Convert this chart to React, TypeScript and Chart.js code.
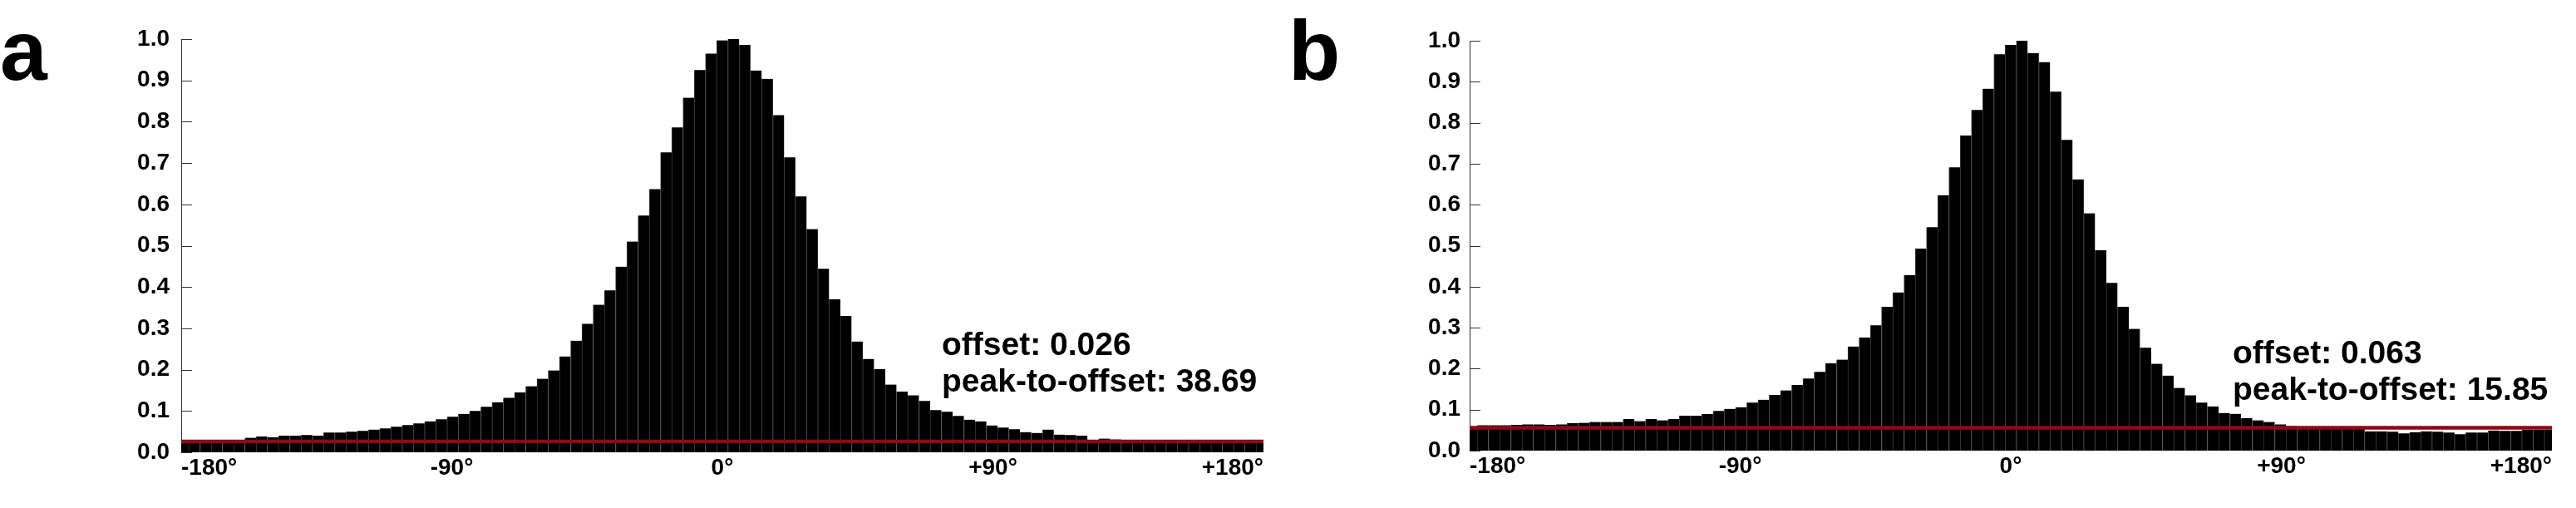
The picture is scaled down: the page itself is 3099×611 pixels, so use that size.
import React, { useEffect, useRef } from "react";
import { Chart, registerables } from "chart.js";

Chart.register(...registerables);

// ---------- data ----------
const X_TICKS = [-180, -90, 0, 90, 180];
const Y_MIN = 0;
const Y_MAX = 1;
const Y_STEP = 0.1;

// histogram bins: 95 full bins between these edges, plus a clipped bin at each end
const BIN_FIRST_EDGE = -177.5;
const BIN_LAST_EDGE = 177.5;
const FULL_BINS = 95;

// panel a (one value per bar, left clipped bar first, right clipped bar last)
const VALUES_A = [
  0.027,
  0.027, 0.027, 0.027, 0.028, 0.028, 0.035, 0.038, 0.036, 0.040, 0.040,
  0.042, 0.040, 0.048, 0.048, 0.050, 0.052, 0.055, 0.058, 0.062, 0.066,
  0.070, 0.075, 0.080, 0.086, 0.093, 0.100, 0.110, 0.121, 0.132, 0.145,
  0.160, 0.178, 0.198, 0.232, 0.270, 0.311, 0.357, 0.392, 0.449, 0.510,
  0.573, 0.637, 0.726, 0.786, 0.858, 0.925, 0.965, 0.997, 1.000, 0.986,
  0.924, 0.904, 0.816, 0.714, 0.619, 0.540, 0.444, 0.370, 0.330, 0.268,
  0.226, 0.201, 0.164, 0.147, 0.138, 0.124, 0.102, 0.098, 0.088, 0.079,
  0.075, 0.065, 0.060, 0.056, 0.049, 0.047, 0.055, 0.043, 0.042, 0.040,
  0.030, 0.033, 0.031, 0.027, 0.027, 0.026, 0.027, 0.026, 0.026, 0.027,
  0.026, 0.026, 0.027, 0.026, 0.026,
  0.026,
];

// panel b
const VALUES_B = [
  0.058,
  0.062, 0.062, 0.062, 0.063, 0.064, 0.064, 0.063, 0.064, 0.067, 0.068,
  0.070, 0.070, 0.070, 0.077, 0.072, 0.077, 0.074, 0.077, 0.085, 0.085,
  0.089, 0.097, 0.102, 0.106, 0.117, 0.124, 0.136, 0.147, 0.160, 0.176,
  0.192, 0.213, 0.222, 0.254, 0.276, 0.306, 0.351, 0.386, 0.428, 0.493,
  0.545, 0.623, 0.691, 0.769, 0.831, 0.883, 0.967, 0.990, 1.000, 0.970,
  0.948, 0.876, 0.758, 0.662, 0.579, 0.489, 0.409, 0.351, 0.297, 0.251,
  0.212, 0.183, 0.153, 0.135, 0.117, 0.108, 0.092, 0.090, 0.079, 0.074,
  0.070, 0.064, 0.060, 0.059, 0.058, 0.058, 0.057, 0.057, 0.056, 0.047,
  0.047, 0.046, 0.042, 0.045, 0.047, 0.046, 0.044, 0.040, 0.044, 0.044,
  0.049, 0.048, 0.048, 0.051, 0.051,
  0.051,
];

const OFFSET_LINE_A = 0.026;
const OFFSET_LINE_B = 0.056;
const TEXT_A = ["offset: 0.026", "peak-to-offset: 38.69"];
const TEXT_B = ["offset: 0.063", "peak-to-offset: 15.85"];
const PANEL_LETTERS = ["a", "b"];

// ---------- helpers ----------
const FONT = '"Liberation Sans", Arial, Helvetica, sans-serif';

function binCenters(count: number): number[] {
  const w = (BIN_LAST_EDGE - BIN_FIRST_EDGE) / FULL_BINS;
  const out: number[] = [];
  for (let i = 0; i < count; i++) out.push(BIN_FIRST_EDGE + w * (i - 1 + 0.5));
  return out;
}

function fmtX(v: number): string {
  if (v > 0) return "+" + v + "\u00b0";
  return v + "\u00b0";
}

const innerTicksPlugin = {
  id: "innerTicks",
  beforeDatasetsDraw(chart: any) {
    const y = chart.scales.y;
    const { left } = chart.chartArea;
    const ctx = chart.ctx;
    ctx.save();
    ctx.strokeStyle = "#333";
    ctx.lineWidth = 1;
    ctx.beginPath();
    y.ticks.forEach((t: any) => {
      const py = Math.round(y.getPixelForValue(t.value)) + 0.5;
      ctx.moveTo(left, py);
      ctx.lineTo(left + 13, py);
    });
    ctx.stroke();
    ctx.restore();
  },
};

const annotPlugin = {
  id: "annot",
  afterDatasetsDraw(chart: any, _args: any, opts: any) {
    if (!opts || !opts.lines) return;
    const ctx = chart.ctx;
    ctx.save();
    ctx.fillStyle = "#000";
    ctx.font = `bold ${opts.size}px ${FONT}`;
    ctx.textAlign = "left";
    ctx.textBaseline = "alphabetic";
    opts.lines.forEach((s: string, i: number) => {
      ctx.fillText(s, opts.x, opts.baseline + i * opts.spacing);
    });
    ctx.restore();
  },
};

type PanelProps = {
  left: number;
  width: number;
  values: number[];
  offset: number;
  lines: string[];
  top: number;
  bottom: number;
  plotRight: number;
  labelPad: number;
  textX: number;
  textBaseline: number;
};

function Panel(p: PanelProps) {
  const ref = useRef<HTMLCanvasElement | null>(null);
  useEffect(() => {
    if (!ref.current) return;
    const centers = binCenters(p.values.length);
    const chart = new Chart(ref.current, {
      type: "bar",
      data: {
        datasets: [
          {
            type: "line",
            data: [
              { x: X_TICKS[0], y: p.offset },
              { x: X_TICKS[X_TICKS.length - 1], y: p.offset },
            ],
            borderColor: "#8c0a17",
            borderWidth: 4.5,
            pointRadius: 0,
            order: 0,
            clip: 0,
          } as any,
          {
            type: "bar",
            data: centers.map((c, i) => ({ x: c, y: p.values[i] })),
            backgroundColor: "#000",
            borderColor: "#3a3a3a",
            borderWidth: { left: 1, right: 0, top: 0, bottom: 0 },
            borderSkipped: false,
            barPercentage: 1,
            categoryPercentage: 1,
            order: 1,
            clip: 0,
          } as any,
        ],
      },
      options: {
        responsive: false,
        animation: false,
        devicePixelRatio: 1,
        events: [],
        layout: {
          padding: { left: 0, right: p.width - p.plotRight, top: p.top, bottom: 0 },
        },
        plugins: {
          legend: { display: false },
          tooltip: { enabled: false },
          annot: {
            lines: p.lines,
            x: p.textX,
            baseline: p.textBaseline,
            spacing: 44,
            size: 39,
          },
        } as any,
        scales: {
          x: {
            type: "linear",
            min: X_TICKS[0],
            max: X_TICKS[X_TICKS.length - 1],
            offset: false,
            afterBuildTicks: (s: any) => {
              s.ticks = X_TICKS.map((v) => ({ value: v }));
            },
            afterFit: (s: any) => {
              s.height = 611 - p.bottom;
            },
            grid: { display: false, drawTicks: false, offset: false },
            border: { display: false },
            ticks: {
              autoSkip: false,
              maxRotation: 0,
              minRotation: 0,
              align: "inner",
              padding: 2,
              color: "#000",
              font: { family: FONT, weight: "bold", size: 28 },
              callback: (v: any) => fmtX(Number(v)),
            },
          } as any,
          y: {
            type: "linear",
            min: Y_MIN,
            max: Y_MAX,
            afterFit: (s: any) => {
              s.width = 218;
            },
            grid: { display: false, drawTicks: false },
            border: { display: true, color: "#333", width: 1 },
            ticks: {
              stepSize: Y_STEP,
              padding: p.labelPad,
              color: "#000",
              font: { family: FONT, weight: "bold", size: 28 },
              callback: (v: any) => Number(v).toFixed(1),
            },
          } as any,
        },
      },
      plugins: [innerTicksPlugin, annotPlugin],
    });
    return () => chart.destroy();
  }, []);
  return (
    <canvas
      ref={ref}
      width={p.width}
      height={611}
      style={{ position: "absolute", left: p.left, top: 0, display: "block" }}
    />
  );
}

const letterStyle = (left: number): React.CSSProperties => ({
  position: "absolute",
  left,
  top: 10,
  fontFamily: FONT,
  fontWeight: "bold",
  fontSize: 102,
  lineHeight: "102px",
  color: "#000",
});

export default function App() {
  return (
    <div
      style={{
        position: "absolute",
        left: 0,
        top: 0,
        width: 3099,
        height: 611,
        background: "#fff",
        overflow: "hidden",
      }}
    >
      <Panel
        left={0}
        width={1550}
        values={VALUES_A}
        offset={OFFSET_LINE_A}
        lines={TEXT_A}
        top={47}
        bottom={544}
        plotRight={1520}
        labelPad={14}
        textX={1133}
        textBaseline={427}
      />
      <Panel
        left={1550}
        width={1549}
        values={VALUES_B}
        offset={OFFSET_LINE_B}
        lines={TEXT_B}
        top={49}
        bottom={542}
        plotRight={1520}
        labelPad={11}
        textX={1136}
        textBaseline={437}
      />
      <div style={letterStyle(0)}>{PANEL_LETTERS[0]}</div>
      <div style={letterStyle(1550)}>{PANEL_LETTERS[1]}</div>
    </div>
  );
}
